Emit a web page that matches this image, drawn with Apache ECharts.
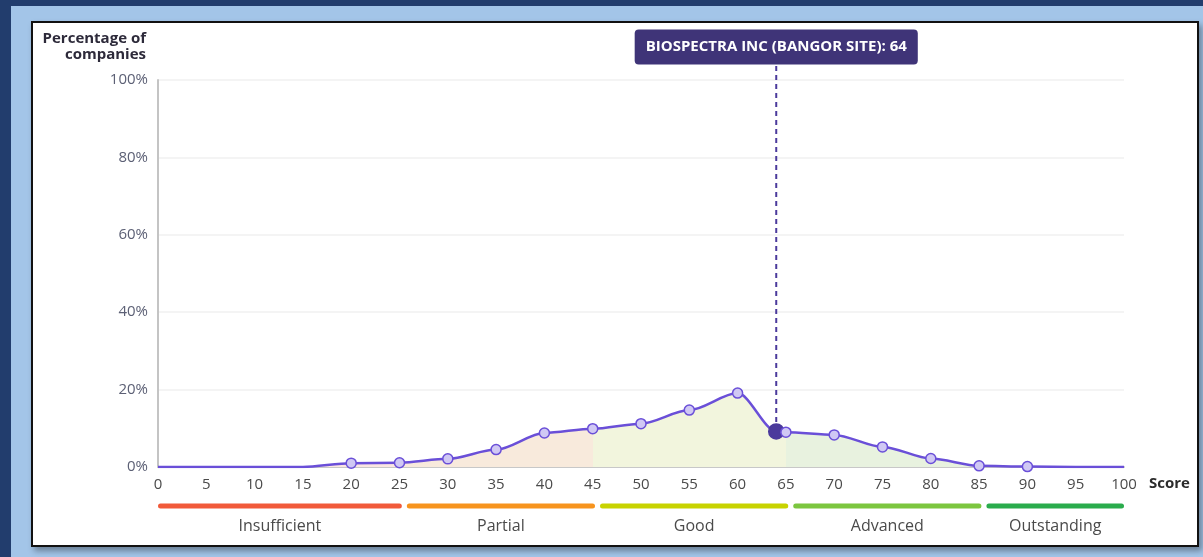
<!DOCTYPE html>
<html>
<head>
<meta charset="utf-8">
<script src="https://cdn.jsdelivr.net/npm/echarts@6/dist/echarts.min.js"></script>
<style>
  html, body { margin: 0; padding: 0; width: 1203px; height: 557px; overflow: hidden; background: #223d6d; }
  #outer { position: absolute; left: 11px; top: 6px; right: 0; bottom: 0; background: #a3c5e8; }
  #panel { position: absolute; left: 31px; top: 21px; width: 1168px; height: 526px; box-sizing: border-box;
           background: #fff; border: 2px solid #111; box-shadow: 3px 4px 6px rgba(0,0,0,0.35); }
  #container { position: absolute; left: 0; top: 0; width: 1203px; height: 557px; }
</style>
</head>
<body>
<div id="outer"></div>
<div id="panel"></div>
<div id="container"></div>
<script>
var scores = [0, 5, 10, 15, 20, 25, 30, 35, 40, 45, 50, 55, 60, 64, 65, 70, 75, 80, 85, 90, 95, 100];
var percents = [0, 0, 0, 0, 1.0, 1.1, 2.1, 4.5, 8.8, 9.9, 11.2, 14.7, 19.1, 9.2, 9.0, 8.3, 5.2, 2.2, 0.3, 0.1, 0, 0];
var yTicks = ["0%", "20%", "40%", "60%", "80%", "100%"];
var companyName = "BIOSPECTRA INC (BANGOR SITE)";
var companyScore = 64;

// bands under the axis
var bandNames = ["Insufficient", "Partial", "Good", "Advanced", "Outstanding"];
var bandStart = [0, 25.5, 45.5, 65.5, 85.5];
var bandEnd = [25.5, 45.5, 65.5, 85.5, 100];
var bandColors = ["#f15a3a", "#f7941e", "#c8d300", "#7cc63f", "#2aac4c"];

// light tint under the curve
var areaEdges = [0, 25, 45, 65, 85, 100];
var areaColors = ["#fbe7e1", "#f8eadc", "#f2f5dd", "#e8f2df", "#e4f2e4"];

var stops = [];
for (var i = 0; i < areaColors.length; i++) {
  stops.push({ offset: areaEdges[i] / 100, color: areaColors[i] });
  stops.push({ offset: areaEdges[i + 1] / 100, color: areaColors[i] });
}

var lineData = scores.map(function (s, i) {
  var item = { value: [s, percents[i]] };
  if (s === companyScore) {
    item.symbolSize = 15;
    item.itemStyle = { color: "#4b3a9c", borderColor: "#4b3a9c" };
  }
  return item;
});

var bandData = bandNames.map(function (n, i) {
  return [bandStart[i], bandEnd[i], n, bandColors[i]];
});

var dom = document.getElementById("container");
var myChart = echarts.init(dom, null, { renderer: "canvas" });

var option = {
  animation: false,
  textStyle: { fontFamily: "Open Sans" },
  grid: [
    { left: 158, right: 79, top: 80, bottom: 90 },
    { left: 158, right: 79, top: 503, height: 6 },
  ],
  xAxis: [
    {
      type: "value",
      min: 0,
      max: 100,
      interval: 5,
      name: "Score",
      nameLocation: "end",
      nameGap: 25,
      nameTextStyle: { fontWeight: "bold", fontSize: 15, color: "#2b2b2b", verticalAlign: "top", padding: [9, 0, 0, 0] },
      axisLine: { lineStyle: { color: "#c8c8c8", width: 2 } },
      axisTick: { show: false },
      axisLabel: { color: "#4a4a4a", fontSize: 15, margin: 10 },
      splitLine: { show: false },
    },
    { type: "value", gridIndex: 1, min: 0, max: 100, show: false },
  ],
  yAxis: [
    {
      type: "value",
      min: 0,
      max: 100,
      interval: 20,
      name: "Percentage of\ncompanies",
      nameLocation: "end",
      nameGap: 17,
      nameTextStyle: { fontWeight: "bold", fontSize: 15, color: "#2d2a3a", align: "right", lineHeight: 16, padding: [0, 12, 0, 0] },
      axisLine: { show: true, lineStyle: { color: "#c4c4c4", width: 2 } },
      axisTick: { show: false },
      axisLabel: {
        color: "#5c6075",
        fontSize: 15,
        margin: 10,
        formatter: function (v) { return yTicks[v / 20]; },
      },
      splitLine: { lineStyle: { color: "#f1f1f1", width: 1.5 } },
    },
    { type: "value", gridIndex: 1, min: 0, max: 1, show: false },
  ],
  series: [
    {
      type: "line",
      data: lineData,
      smooth: 0.3,
      smoothMonotone: "x",
      z: 3,
      symbol: "circle",
      symbolSize: function (v) { return v[1] > 0 ? 10 : 0; },
      lineStyle: { color: "#6a4fd8", width: 2.5 },
      itemStyle: { color: "#d0c8f4", borderColor: "#6a4fd8", borderWidth: 1.5 },
      areaStyle: {
        opacity: 1,
        color: new echarts.graphic.LinearGradient(0, 0, 1, 0, stops),
      },
    },
    {
      type: "line",
      data: [[companyScore, 0], [companyScore, 104]],
      clip: false,
      z: 2,
      symbol: "circle",
      symbolSize: 0,
      showSymbol: true,
      itemStyle: { color: "transparent" },
      lineStyle: { color: "#4b3a9c", width: 2, type: [5, 4] },
      label: {
        show: true,
        position: "top",
        distance: 0,
        formatter: function (p) { return p.dataIndex === 1 ? companyName + ": " + companyScore : ""; },
        color: "#ffffff",
        fontWeight: "bold",
        fontSize: 15,
        lineHeight: 19,
        backgroundColor: "#3f3478",
        borderRadius: 4,
        padding: [8, 11, 8, 11],
      },
    },
    {
      type: "custom",
      xAxisIndex: 1,
      yAxisIndex: 1,
      data: bandData,
      clip: false,
      renderItem: function (params, api) {
        var a = api.coord([api.value(0), 0.5]);
        var b = api.coord([api.value(1), 0.5]);
        var x0 = a[0] + (api.value(0) > 0 ? 2.5 : 0);
        var x1 = b[0] - (api.value(1) < 100 ? 2.5 : 0);
        var item = bandData[params.dataIndex];
        return {
          type: "group",
          children: [
            {
              type: "rect",
              shape: { x: x0, y: a[1] - 2.5, width: x1 - x0, height: 5, r: 2.5 },
              style: { fill: item[3] },
            },
            {
              type: "text",
              style: {
                x: (x0 + x1) / 2,
                y: a[1] + 20,
                text: item[2],
                fill: "#4a4a4a",
                font: "16px 'Open Sans'",
                textAlign: "center",
                textVerticalAlign: "middle",
              },
            },
          ],
        };
      },
    },
  ],
};

myChart.setOption(option);
window.addEventListener("resize", myChart.resize);
</script>
</body>
</html>
